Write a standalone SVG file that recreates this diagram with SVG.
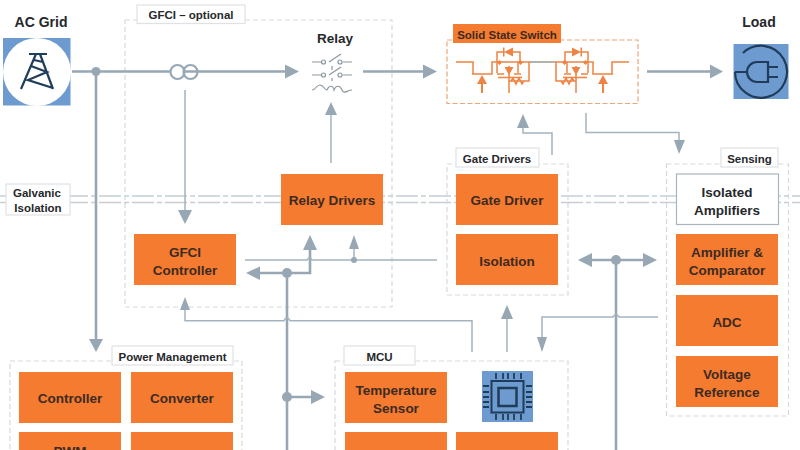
<svg xmlns="http://www.w3.org/2000/svg" width="800" height="450" viewBox="0 0 800 450">
<style>
text{font-family:"Liberation Sans",Arial,sans-serif;font-weight:700;text-anchor:middle;fill:#26282b}
.t{font-size:13.5px}
.s{font-size:11.5px}
.h{font-size:13.5px}
.o{fill:#f47b30}
.or text,text.d{fill:#3d2a20}
.b{fill:#fff;stroke:#dfe2e5;stroke-width:1.2}
.z{fill:none;stroke:#d5d9dc;stroke-width:1.2;stroke-dasharray:5 3}
.g{fill:none;stroke:#c6ced4;stroke-width:1.3;stroke-dasharray:22 3 5 3}
.k{fill:none;stroke:#97a8b4;stroke-width:2.6}
.n{fill:none;stroke:#a4b3bd;stroke-width:1.5}
.a{fill:#97a8b4}
.i{fill:none;stroke:#1f3d5a;stroke-width:2.2}
.q{fill:none;stroke:#ee8443;stroke-width:1.5}
.p{fill:#ee8443}
.r{fill:none;stroke:#8b979f;stroke-width:1.2}
</style>
<defs>
<g id="half-switch">
<path class="q" d="M456 62H473V74H492V62H529V81H509M472 74H492M497 62V52H504M513 52H520V62M497 62V73M497 74H504M518 62V73M514 74H521M509 66V93M498 77.500H522"/>
<path class="p" d="M482 75 477 84H487ZM481 84H483V93H481ZM504 52 513 47.500V56.500ZM503 47.500H504.500V56.500H503ZM509 75 504.500 67H513.500ZM497 62.500 499.500 60 502 62.500 499.500 65ZM518 62.500 520.500 60 523 62.500 520.500 65Z"/>
<path class="q" stroke-width="1" d="M511 81 513 78 516 84 519 78 522 84 524 81"/>
</g>
</defs>
<rect width="800" height="450" fill="#fff"/>
<g id="isolation-lines">
<path class="g" d="M0 196H800M0 202.500H800"/>
</g>
<g id="group-frames">
<rect class="z" x="125" y="20" width="267" height="287"/>
<rect class="z" x="447" y="164" width="121" height="131"/>
<rect class="z" x="666.500" y="164" width="122" height="252"/>
<rect class="z" x="10" y="361" width="232" height="100"/>
<rect class="z" x="335" y="361" width="233" height="100"/>
</g>
<g id="connectors">
<path class="k" d="M72 71.500H287M96 71.500V341M363 71.500H425M647 71.500H711M287 273V450M287 397H313M260 273H310V250M590 260H645M616 260V450"/>
<path class="n" d="M185 90V212M331 163V114M552 155V133H523V126M586 113V132.500H679V142M245 260H307Q309.500 256 312 260H437M354 260V248M185 308V320.700H284Q287 315 290 320.700H472V352M507 352V318M658 317H619Q616 312 613 317H542V338"/>
<path class="a" d="M299 71.500 285 64.500V78.500ZM96 352 89 339H103ZM185 224 178 210H192ZM331 102 325 115H337ZM437 71.500 423 64.500V78.500ZM723 71.500 710 64.500V78.500ZM523 114 517 128H529ZM679 154 674 140H685ZM246 273 260 266.500V280ZM310 235 303 250H317ZM354 235 349 249H359ZM325 397 311 390V404ZM185 297 180 310H190ZM507 305 501 319H513ZM542 352 537 337H547ZM578 260 592 253V267ZM657 260 643 253V267Z"/>
<circle class="a" cx="96" cy="71.500" r="4.500"/>
<circle class="a" cx="287" cy="273" r="5"/>
<circle class="a" cx="287" cy="397" r="5"/>
<circle class="a" cx="354" cy="260" r="3"/>
<circle class="a" cx="616" cy="260" r="5"/>
<circle cx="177.500" cy="72" r="7" fill="#fff" stroke="#97a8b4" stroke-width="2.200"/>
<circle cx="190.500" cy="72" r="7" fill="none" stroke="#97a8b4" stroke-width="2.200"/>
</g>
<g id="ac-grid">
<text class="h" x="41" y="27" style="font-size:14px">AC Grid</text>
<rect x="3" y="38" width="67.500" height="67.500" fill="#6d9bcf"/>
<circle cx="37" cy="72" r="34" fill="#fff"/>
<path class="i" d="M29 54H47M36 54 21 89M40 54 53 89M31 66 47 72 28 80 53 88M34 60 43 62" stroke-width="2.500"/>
</g>
<g id="gfci-label">
<rect class="b" x="137" y="5" width="108" height="18.500"/>
<text class="s" x="191" y="19">GFCI – optional</text>
</g>
<g id="relay">
<text class="h" x="335" y="43">Relay</text>
<path class="r" d="M312 62H321M329 62 341 54M343 62H352M312 75H321M329 75 341 67M343 75H352M332 66V70M332 78V81M312 90C316 90 316 85 320 85S324 90 327 90C329 85 333 85 334 90C336 85 340 85 342 90S347 90 352 90"/>
<circle class="r" cx="323.500" cy="62" r="2"/><circle class="r" cx="340" cy="62" r="2"/>
<circle class="r" cx="323.500" cy="75" r="2"/><circle class="r" cx="340" cy="75" r="2"/>
</g>
<g id="solid-state-switch">
<rect x="447" y="40" width="191" height="63.500" fill="#fff" stroke="#eda679" stroke-width="1.200" stroke-dasharray="5 2.500"/>
<rect class="o" x="453" y="24" width="108" height="19"/>
<text class="s d" x="507" y="38.500">Solid State Switch</text>
<path d="M529 62H556" fill="none" stroke="#9a9a90" stroke-width="1.500"/>
<use href="#half-switch"/>
<use href="#half-switch" transform="matrix(-1 0 0 1 1085 0)"/>
</g>
<g id="load">
<text class="h" x="759" y="27" style="font-size:14px">Load</text>
<rect x="733.500" y="44" width="55" height="55" fill="#6d9bcf"/>
<path class="i" d="M735 72H748M768 62H757A10 10 0 0 0 757 82H768ZM768 67H778M768 77H778M743 53A26 26 0 1 1 735 72"/>
</g>
<g id="galvanic">
<rect class="b" x="6" y="184" width="64" height="31"/>
<text class="s" x="37" y="197">Galvanic</text>
<text class="s" x="38" y="212">Isolation</text>
</g>
<g id="relay-drivers" class="or"><rect class="o" x="281" y="174" width="102" height="51"/><text class="t" x="332" y="205">Relay Drivers</text></g>
<g id="gfci-controller" class="or"><rect class="o" x="134" y="234" width="102" height="51"/><text class="t" x="185" y="257">GFCI</text><text class="t" x="185" y="275">Controller</text></g>
<g id="gate-drivers-label"><rect class="b" x="456" y="148" width="83" height="19"/><text class="s" x="497" y="163">Gate Drivers</text></g>
<g id="gate-driver" class="or"><rect class="o" x="456" y="174" width="102" height="51"/><text class="t" x="507" y="205">Gate Driver</text></g>
<g id="isolation" class="or"><rect class="o" x="456" y="234" width="102" height="51"/><text class="t" x="507" y="266">Isolation</text></g>
<g id="sensing-label"><rect class="b" x="721" y="148" width="57" height="19"/><text class="s" x="749.500" y="163">Sensing</text></g>
<g id="isolated-amplifiers"><rect x="676.500" y="174" width="102" height="50.500" fill="#fff" stroke="#a9b5be" stroke-width="1.200"/><text class="t" x="727" y="197">Isolated</text><text class="t" x="727" y="215">Amplifiers</text></g>
<g id="amplifier-comparator" class="or"><rect class="o" x="676" y="234" width="102" height="51"/><text class="t" x="727" y="257">Amplifier &amp;</text><text class="t" x="727" y="275">Comparator</text></g>
<g id="adc" class="or"><rect class="o" x="676" y="295" width="102" height="51"/><text class="t" x="727" y="327">ADC</text></g>
<g id="voltage-reference" class="or"><rect class="o" x="676" y="356" width="102" height="51"/><text class="t" x="727" y="379">Voltage</text><text class="t" x="727" y="397">Reference</text></g>
<g id="power-label"><rect class="b" x="112" y="346" width="121" height="19"/><text class="s" x="172.500" y="361">Power Management</text></g>
<g id="controller" class="or"><rect class="o" x="19" y="372" width="102" height="51"/><text class="t" x="70" y="403">Controller</text></g>
<g id="converter" class="or"><rect class="o" x="131" y="372" width="102" height="51"/><text class="t" x="182" y="403">Converter</text></g>
<g id="pwm" class="or"><rect class="o" x="19" y="432" width="102" height="30"/><text class="t" x="70" y="456">PWM</text></g>
<g id="power-box-4" class="or"><rect class="o" x="131" y="432" width="102" height="30"/></g>
<g id="mcu-label"><rect class="b" x="344" y="346" width="71" height="19"/><text class="s" x="379.500" y="361">MCU</text></g>
<g id="temperature-sensor" class="or"><rect class="o" x="345" y="372" width="102" height="51"/><text class="t" x="396" y="395">Temperature</text><text class="t" x="396" y="413">Sensor</text></g>
<g id="mcu-chip">
<rect x="482" y="371" width="51" height="51" fill="#6d9bcf"/>
<rect x="491.500" y="381" width="32" height="31.500" fill="none" stroke="#1f3d5a" stroke-width="2"/>
<rect x="498.500" y="388" width="18" height="18" fill="none" stroke="#1f3d5a" stroke-width="2.500"/>
<path fill="none" stroke="#1f3d5a" stroke-width="1.800" d="M496 373V379M503 373V379M508 373V379M514 373V379M521 373V379M496 414V420M503 414V420M508 414V420M514 414V420M521 414V420M483 386H489M483 392H489M483 397H489M483 402H489M483 407H489M526 386H532M526 392H532M526 397H532M526 402H532M526 407H532"/>
</g>
<g id="mcu-box-3" class="or"><rect class="o" x="345" y="432" width="102" height="30"/></g>
<g id="mcu-box-4" class="or"><rect class="o" x="456" y="432" width="102" height="30"/></g>
</svg>
